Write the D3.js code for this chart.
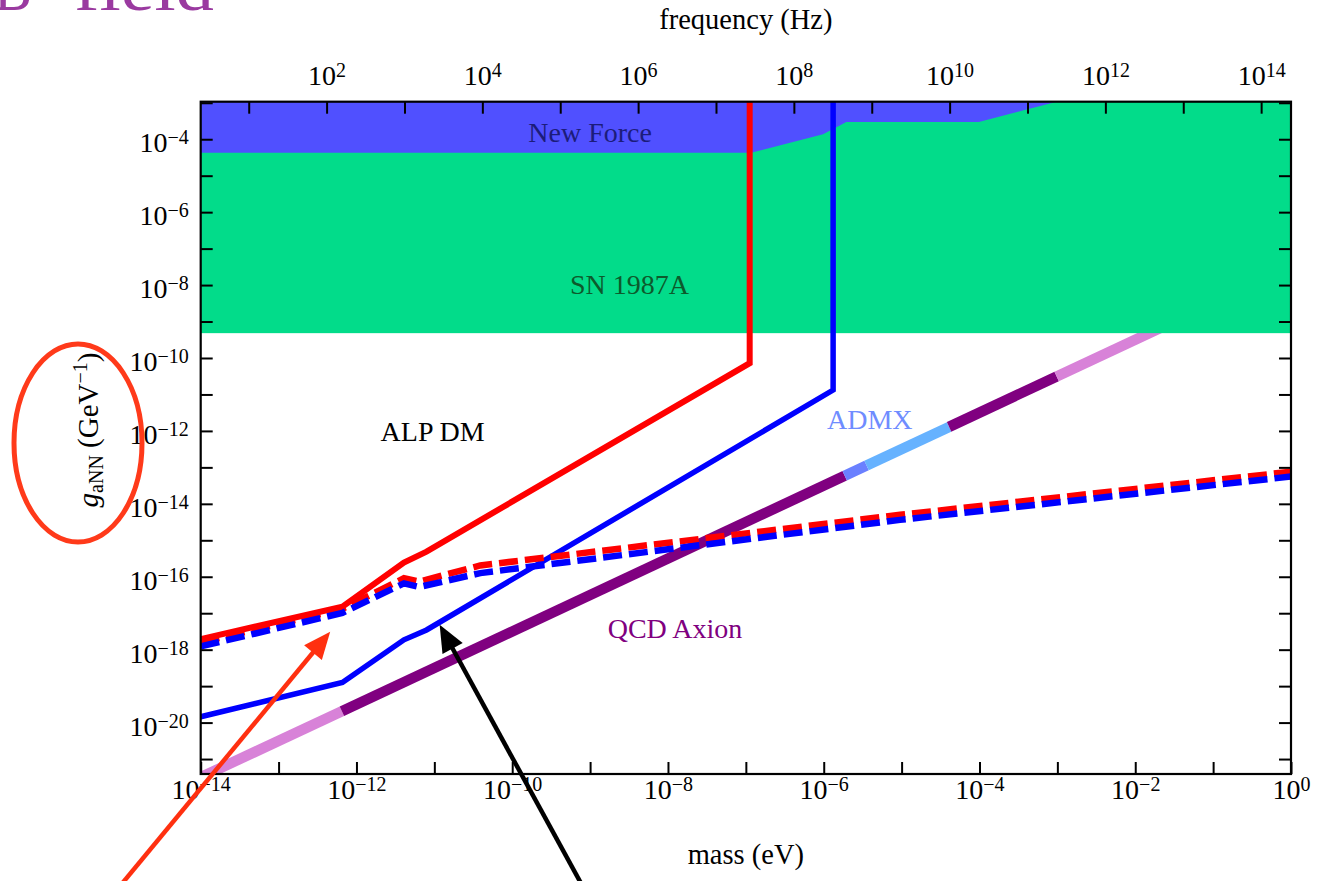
<!DOCTYPE html>
<html><head><meta charset="utf-8">
<script src="https://cdn.jsdelivr.net/npm/d3@7"></script>
<style>
html,body{margin:0;padding:0;background:#fff;}
svg{display:block;}
text{font-family:"Liberation Serif","Times New Roman",serif;}
</style></head><body>
<svg id="chart" width="1323" height="881"></svg>
<script>
// ---------------- data ----------------
const massExtent = [1e-14, 1];                 // eV
const couplingExtent = [3.89e-22, 1.07e-3];    // GeV^-1
const planckEVs = 4.135667e-15;                // eV*s, mass -> frequency

const massTickExp = [-14,-13,-12,-11,-10,-9,-8,-7,-6,-5,-4,-3,-2,-1,0];
const massLabelExp = [-14,-12,-10,-8,-6,-4,-2,0];
const couplingTickExp = [-21,-20,-19,-18,-17,-16,-15,-14,-13,-12,-11,-10,-9,-8,-7,-6,-5,-4,-3];
const couplingLabelExp = [-20,-18,-16,-14,-12,-10,-8,-6,-4];
const freqTickExp = [1,2,3,4,5,6,7,8,9,10,11,12,13,14];
const freqLabelExp = [2,4,6,8,10,12,14];

// SN 1987A excluded region (all masses, above this coupling)
const sn1987aFloor = 4.8e-10;
// New Force excluded region lower boundary
const newForceMass = [1e-14, 1.17e-7, 9.8e-7, 1.95e-6, 9.8e-5, 9.8e-4];
const newForceG    = [4.27e-5, 4.27e-5, 1.38e-4, 2.95e-4, 2.95e-4, 1.07e-3];

// Sensitivity curves
const redSolidMass  = [1e-14, 6.6e-13, 4.07e-12, 7.94e-12, 1.12e-7, 1.12e-7];
const redSolidG     = [1.95e-18, 1.51e-17, 2.45e-16, 4.9e-16, 7.2e-11, 1.07e-3];
const blueSolidMass = [1e-14, 6.6e-13, 4.07e-12, 7.94e-12, 1.32e-6, 1.32e-6];
const blueSolidG    = [1.45e-20, 1.26e-19, 1.86e-18, 3.47e-18, 1.32e-11, 1.07e-3];
const redDashMass   = [1e-14, 6.6e-13, 4.07e-12, 6.46e-12, 3.89e-11, 9.55e-6, 1];
const redDashG      = [1.585e-18, 1.32e-17, 9.1e-17, 7.4e-17, 2.04e-16, 5.0e-15, 7.6e-14];
const blueDashMass  = [1e-14, 6.6e-13, 4.07e-12, 6.46e-12, 3.89e-11, 9.55e-6, 1];
const blueDashG     = [1.23e-18, 1.02e-17, 6.6e-17, 5.25e-17, 1.26e-16, 3.63e-15, 5.6e-14];

// QCD axion band segments (boundaries and segment colours)
const qcdMass = [1e-14, 6.5e-13, 1.86e-6, 3.55e-6, 4.07e-5, 9.8e-4, 1];
const qcdG    = [3.16e-22, 2.05e-20, 5.9e-14, 1.12e-13, 1.29e-12, 3.1e-11, 3.16e-8];
const qcdSegColors = ["#d882d8", "#800080", "#6a80ff", "#66b2ff", "#800080", "#d882d8"];

// Region / curve labels (data coordinates of label anchor)
const labelText  = ["New Force", "SN 1987A", "ALP DM", "ADMX", "QCD Axion"];
const labelMass  = [1e-9, 3.2e-9, 9.5e-12, 3.9e-6, 1.23e-8];
const labelG     = [8.3e-5, 5.75e-9, 5.4e-13, 1.12e-12, 2.1e-18];
const labelColor = ["#1c1c7a", "#0d5a2c", "#000000", "#6f8cff", "#800080"];

// Annotation arrows (tip in data coordinates, direction tail->tip)
const arrowTipMass = [4.6e-13, 1.17e-11];
const arrowTipG    = [3.1e-18, 4.8e-18];
const arrowColor   = ["#ff3010", "#000000"];

// ---------------- layout ----------------
const L = 200.7, R = 1291, T = 101.7, B = 774;
const svg = d3.select("#chart");

const x = d3.scaleLog().domain(massExtent).range([L, R]);
const y = d3.scaleLog().domain(couplingExtent).range([B, T]);
const xf = d3.scaleLog().domain(massExtent.map(m => m / planckEVs)).range([L, R]);

svg.append("defs").append("clipPath").attr("id", "plotclip")
  .append("rect").attr("x", L).attr("y", T).attr("width", R - L).attr("height", B - T);

const plot = svg.append("g").attr("clip-path", "url(#plotclip)");

// QCD band
for (let i = 0; i < qcdSegColors.length; i++) {
  plot.append("line")
    .attr("x1", x(qcdMass[i])).attr("y1", y(qcdG[i]))
    .attr("x2", x(qcdMass[i + 1])).attr("y2", y(qcdG[i + 1]))
    .attr("stroke", qcdSegColors[i]).attr("stroke-width", 10.5).attr("stroke-linecap", "butt");
}

// SN1987A region
plot.append("rect")
  .attr("x", x(massExtent[0]) - 3).attr("y", y(couplingExtent[1]))
  .attr("width", x(massExtent[1]) - x(massExtent[0]) + 6)
  .attr("height", y(sn1987aFloor) - y(couplingExtent[1]))
  .attr("fill", "#02dc8a");

// New Force region
const nfPts = newForceMass.map((m, i) => [m, newForceG[i]]);
nfPts.push([massExtent[0], couplingExtent[1]]);
plot.append("path")
  .attr("d", d3.line().x(d => x(d[0])).y(d => y(d[1]))(nfPts) + "Z")
  .attr("fill", "#5050ff");

const line = d3.line().x(d => x(d[0])).y(d => y(d[1]));
function curve(ms, gs, color, w, dash) {
  const p = plot.append("path")
    .attr("d", line(ms.map((m, i) => [m, gs[i]])))
    .attr("fill", "none").attr("stroke", color).attr("stroke-width", w)
    .attr("stroke-linejoin", "miter");
  if (dash) p.attr("stroke-dasharray", dash);
}
curve(redSolidMass, redSolidG, "#ff0000", 6);
curve(blueSolidMass, blueSolidG, "#0000ff", 5.5);
curve(redDashMass, redDashG, "#ff0000", 6.5, "19 7");
curve(blueDashMass, blueDashG, "#0000ff", 6.5, "19 7");

// Labels
labelText.forEach((t, i) => {
  svg.append("text").attr("x", x(labelMass[i])).attr("y", y(labelG[i]))
    .attr("text-anchor", "middle").attr("font-size", 28).attr("fill", labelColor[i]).text(t);
});

// ---------------- axes ----------------
function supLabels(sel, labelSet) {
  sel.selectAll(".tick text").each(function (d) {
    const e = Math.round(Math.log10(d));
    const t = d3.select(this).text(null);
    if (!labelSet.includes(e)) return;
    t.append("tspan").text("10");
    t.append("tspan").attr("dy", -8).attr("font-size", 20).text(e < 0 ? "\u2212" + (-e) : String(e));
  });
}
function styleAxis(g) {
  g.select(".domain").remove();
  g.selectAll(".tick line").attr("stroke", "#000").attr("stroke-width", 2);
  g.selectAll(".tick text").attr("font-size", 28).attr("fill", "#000")
    .attr("font-family", '"Liberation Serif","Times New Roman",serif');
}

const gB = svg.append("g").attr("transform", `translate(0,${B})`)
  .call(d3.axisBottom(x).tickValues(massTickExp.map(e => 10 ** e)).tickSize(-12).tickPadding(5).tickFormat(() => "x"));
styleAxis(gB); supLabels(gB, massLabelExp);

const gT = svg.append("g").attr("transform", `translate(0,${T})`)
  .call(d3.axisTop(xf).tickValues(freqTickExp.map(e => 10 ** e)).tickSize(-12).tickPadding(16.5).tickFormat(() => "x"));
styleAxis(gT); supLabels(gT, freqLabelExp);

const gL = svg.append("g").attr("transform", `translate(${L},0)`)
  .call(d3.axisLeft(y).tickValues(couplingTickExp.map(e => 10 ** e)).tickSize(-12).tickPadding(12).tickFormat(() => "x"));
styleAxis(gL); gL.selectAll(".tick text").attr("dy", "0.45em"); supLabels(gL, couplingLabelExp);

const gR = svg.append("g").attr("transform", `translate(${R},0)`)
  .call(d3.axisRight(y).tickValues(couplingTickExp.map(e => 10 ** e)).tickSize(-12).tickFormat(() => ""));
styleAxis(gR);

// frame
svg.append("rect").attr("x", L).attr("y", T).attr("width", R - L).attr("height", B - T)
  .attr("fill", "none").attr("stroke", "#000").attr("stroke-width", 2.2);

// axis titles
svg.append("text").attr("x", (L + R) / 2).attr("y", 29).attr("text-anchor", "middle")
  .attr("font-size", 28.5).text("frequency (Hz)");
svg.append("text").attr("x", (L + R) / 2).attr("y", 864).attr("text-anchor", "middle")
  .attr("font-size", 28.5).text("mass (eV)");
const yt = svg.append("text").attr("transform", "translate(98,430) rotate(-90)")
  .attr("text-anchor", "middle").attr("font-size", 29);
yt.append("tspan").attr("font-style", "italic").text("g");
yt.append("tspan").attr("font-size", 20).attr("dy", 5).text("aNN");
yt.append("tspan").attr("dy", -5).text(" (GeV");
yt.append("tspan").attr("font-size", 20).attr("dy", -11).text("\u22121");
yt.append("tspan").attr("dy", 11).text(")");

// ---------------- slide annotations ----------------
// partial slide heading (cut off at the top edge, as on the slide)
svg.append("text").attr("x", -6).attr("y", 10).attr("font-family", "Lato, sans-serif").attr("font-weight", 300)
  .attr("font-size", 66).attr("fill", "#9a3aa0").attr("textLength", 38).attr("lengthAdjust", "spacingAndGlyphs").text("B");
svg.append("text").attr("x", 74).attr("y", 10).attr("font-family", "Lato, sans-serif").attr("font-weight", 300)
  .attr("font-size", 66).attr("fill", "#9a3aa0").attr("textLength", 140).attr("lengthAdjust", "spacingAndGlyphs").text("field");

// ellipse around y-axis title
svg.append("ellipse").attr("cx", 78).attr("cy", 443).attr("rx", 64).attr("ry", 99)
  .attr("fill", "none").attr("stroke", "#ff3a1a").attr("stroke-width", 5);

// arrows
const arrowDirs = [[205, -248], [-140, -256]];
arrowTipMass.forEach((m, i) => {
  const tx = x(m), ty = y(arrowTipG[i]);
  const d = arrowDirs[i], len = Math.hypot(d[0], d[1]);
  const ux = d[0] / len, uy = d[1] / len;
  const headL = 27, headW = 11.5;
  const bx = tx - ux * headL, by = ty - uy * headL;
  svg.append("line").attr("x1", tx - ux * 400).attr("y1", ty - uy * 400)
    .attr("x2", bx + ux * 2).attr("y2", by + uy * 2)
    .attr("stroke", arrowColor[i]).attr("stroke-width", 4.5);
  svg.append("polygon").attr("points", [
    [tx, ty], [bx - uy * headW, by + ux * headW], [bx + uy * headW, by - ux * headW]
  ].map(p => p.join(",")).join(" ")).attr("fill", arrowColor[i]);
});
</script>
</body></html>
